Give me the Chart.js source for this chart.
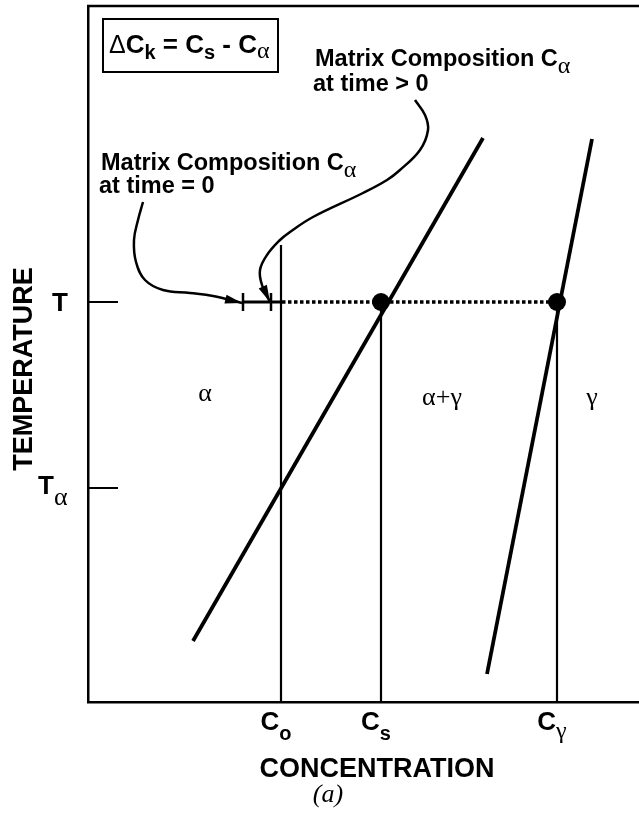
<!DOCTYPE html>
<html><head><meta charset="utf-8">
<script src="https://cdn.jsdelivr.net/npm/chart.js@4.4.0/dist/chart.umd.min.js"></script>
<style>html,body{margin:0;padding:0;background:#fff;overflow:hidden}</style>
</head><body>
<canvas id="c" width="639" height="816"></canvas>
<script>
// ---- data (arbitrary concentration / temperature units) ----
const concentrationTickLabels = [['C','o'], ['C','s'], ['C','γ']];
const concentrationTickValues = [193, 293, 469];   // Co, Cs, Cγ
const temperatureTickLabels = [['T',''], ['T','α']];
const temperatureTickValues = [400, 214];           // T, Tα
const alphaBoundary = [{x:105, y:61}, {x:395, y:564}];
const gammaBoundary = [{x:399, y:28}, {x:504, y:563}];
const tieLineEnds = [194, 469];                     // dotted tie line at T
const matrixShiftEnds = [155, 194];                 // Cα shift bracket at T
const matrixShiftMarks = [155, 183];
const tieLineDots = [293, 469];                     // Cs, Cγ at T
const phaseLabels = ['α', 'α+γ', 'γ'];
const phaseLabelX = [117, 354, 504];
const phaseLabelY = [309, 305, 305];
const arrowTimeZero = [{x:55,y:500},{x:50,y:482},{x:46,y:462},{x:48,y:440},{x:57,y:422},{x:75,y:412},{x:102,y:409},{x:125,y:406},{x:154,y:399}];
const arrowTimeLater = [{x:327,y:602},{x:337,y:587},{x:340,y:572},{x:332,y:552},{x:312,y:532},{x:299,y:522},{x:275,y:509},{x:225,y:485},{x:202,y:470},{x:192,y:462},{x:179,y:447},{x:172,y:432},{x:174,y:417},{x:182,y:400}];
const T = temperatureTickValues[0];

const BLACK = '#000';
const seg = (pts, w, extra) => Object.assign({type:'line', data:pts, borderColor:BLACK, borderWidth:w, pointRadius:0, tension:0, fill:false, borderCapStyle:'butt'}, extra||{});

const datasets = [];
// temperature tick marks (inward)
temperatureTickValues.forEach(v => datasets.push(seg([{x:0,y:v},{x:30,y:v}], 2)));
// concentration verticals
datasets.push(seg([{x:concentrationTickValues[0],y:0},{x:concentrationTickValues[0],y:457}], 2.2));
datasets.push(seg([{x:concentrationTickValues[1],y:0},{x:concentrationTickValues[1],y:T}], 2.2));
datasets.push(seg([{x:concentrationTickValues[2],y:0},{x:concentrationTickValues[2],y:T}], 2.2));
// phase boundaries
datasets.push(seg(alphaBoundary, 3.8));
datasets.push(seg(gammaBoundary, 3.8));
// tie line (dotted)
datasets.push(seg(tieLineEnds.map(x => ({x, y:T})), 3.5, {borderDash:[3.5,2.5]}));
// matrix shift bracket
datasets.push(seg(matrixShiftEnds.map(x => ({x, y:T})), 3));
matrixShiftMarks.forEach(x => datasets.push(seg([{x, y:T-9},{x, y:T+9}], 2.5)));
// dots
datasets.push({type:'scatter', data:tieLineDots.map(x => ({x, y:T})), pointRadius:9, pointBackgroundColor:BLACK, pointBorderColor:BLACK, pointBorderWidth:0});
// annotation arrows
datasets.push(seg(arrowTimeZero, 2.5, {tension:0.4, arrow:true}));
datasets.push(seg(arrowTimeLater, 2.5, {tension:0.4, arrow:true}));

function runs(ctx, x, y, parts, align) {
  let w = 0;
  parts.forEach(p => { ctx.font = p.f; p.w = ctx.measureText(p.t).width; w += p.w; });
  let cx = align === 'center' ? x - w/2 : (align === 'right' ? x - w : x);
  parts.forEach(p => { ctx.font = p.f; ctx.fillText(p.t, cx, y + (p.dy||0)); cx += p.w; });
}
const SANS = '"Liberation Sans", Arial, sans-serif';
const SERIF = '"Liberation Serif", "Times New Roman", serif';

const decor = {
  id:'decor',
  afterDatasetsDraw(chart) {
    const ctx = chart.ctx, xs = chart.scales.x, ys = chart.scales.y, a = chart.chartArea;
    ctx.save();
    // top frame line
    ctx.strokeStyle = BLACK; ctx.lineWidth = 2.5;
    ctx.beginPath(); ctx.moveTo(a.left - 1, a.top); ctx.lineTo(a.right, a.top); ctx.stroke();
    // arrowheads
    chart.data.datasets.forEach((ds, i) => {
      if (!ds.arrow) return;
      const pts = chart.getDatasetMeta(i).data;
      const p = pts[pts.length-1];
      let bx = p.cp1x, by = p.cp1y;
      if (bx === undefined || (Math.abs(bx-p.x) < 0.5 && Math.abs(by-p.y) < 0.5)) { bx = pts[pts.length-2].x; by = pts[pts.length-2].y; }
      const ang = Math.atan2(p.y - by, p.x - bx);
      const L = 17, H = 4.5;
      ctx.fillStyle = BLACK;
      ctx.beginPath();
      ctx.moveTo(p.x, p.y);
      ctx.lineTo(p.x - L*Math.cos(ang) - H*Math.sin(ang), p.y - L*Math.sin(ang) + H*Math.cos(ang));
      ctx.lineTo(p.x - L*Math.cos(ang) + H*Math.sin(ang), p.y - L*Math.sin(ang) - H*Math.cos(ang));
      ctx.closePath(); ctx.fill();
    });
    ctx.fillStyle = BLACK; ctx.textBaseline = 'alphabetic';
    // concentration tick labels
    concentrationTickLabels.forEach((lab, i) => {
      const px = xs.getPixelForValue(concentrationTickValues[i]);
      const sub = lab[1] === 'γ' ? {t:lab[1], f:'24px '+SERIF, dy:8} : {t:lab[1], f:'bold 20px '+SANS, dy:10};
      runs(ctx, px - 5, 730, [{t:lab[0], f:'bold 26px '+SANS}, sub], 'center');
    });
    // temperature tick labels
    temperatureTickLabels.forEach((lab, i) => {
      const py = ys.getPixelForValue(temperatureTickValues[i]);
      if (lab[1]) runs(ctx, 38, py + 6, [{t:lab[0], f:'bold 26px '+SANS}, {t:lab[1], f:'26px '+SERIF, dy:11}], 'left');
      else runs(ctx, 60, py + 9, [{t:lab[0], f:'bold 26px '+SANS}], 'center');
    });
    // axis titles
    runs(ctx, 377, 777, [{t:'CONCENTRATION', f:'bold 27px '+SANS}], 'center');
    ctx.save(); ctx.translate(32, 369); ctx.rotate(-Math.PI/2);
    runs(ctx, 0, 0, [{t:'TEMPERATURE', f:'bold 27px '+SANS}], 'center');
    ctx.restore();
    runs(ctx, 328, 802, [{t:'(a)', f:'italic 26px '+SERIF}], 'center');
    // phase labels
    phaseLabels.forEach((t, i) => {
      runs(ctx, xs.getPixelForValue(phaseLabelX[i]), ys.getPixelForValue(phaseLabelY[i]) + 8, [{t, f:'26px '+SERIF}], 'center');
    });
    // equation box
    ctx.lineWidth = 2; ctx.strokeRect(103, 19, 175, 53);
    runs(ctx, 109, 53, [
      {t:'Δ', f:'25px '+SANS}, {t:'C', f:'bold 26px '+SANS}, {t:'k', f:'bold 20px '+SANS, dy:6},
      {t:' = C', f:'bold 26px '+SANS}, {t:'s', f:'bold 20px '+SANS, dy:6},
      {t:' - C', f:'bold 26px '+SANS}, {t:'α', f:'24px '+SERIF, dy:5}], 'left');
    // annotations
    runs(ctx, 315, 66, [{t:'Matrix Composition C', f:'bold 23.5px '+SANS}, {t:'α', f:'24px '+SERIF, dy:7}], 'left');
    runs(ctx, 313, 91, [{t:'at time > 0', f:'bold 23.5px '+SANS}], 'left');
    runs(ctx, 101, 170, [{t:'Matrix Composition C', f:'bold 23.5px '+SANS}, {t:'α', f:'24px '+SERIF, dy:7}], 'left');
    runs(ctx, 99, 193, [{t:'at time = 0', f:'bold 23.5px '+SANS}], 'left');
    ctx.restore();
  }
};

new Chart(document.getElementById('c'), {
  data: {datasets},
  options: {
    responsive:false, animation:false, devicePixelRatio:1,
    layout:{autoPadding:false, padding:{left:88, top:6, right:0, bottom:114}},
    plugins:{legend:{display:false}, tooltip:{enabled:false}},
    events:[],
    scales:{
      x:{type:'linear', min:0, max:551, grid:{display:false, drawTicks:false}, ticks:{display:false}, border:{display:true, color:BLACK, width:2.5}},
      y:{type:'linear', min:0, max:696, grid:{display:false, drawTicks:false}, ticks:{display:false}, border:{display:true, color:BLACK, width:2.5}}
    }
  },
  plugins:[decor]
});
</script>
</body></html>
